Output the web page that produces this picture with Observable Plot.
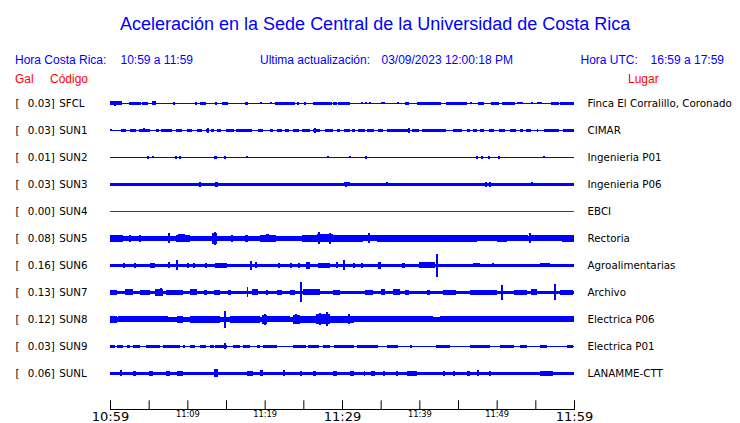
<!DOCTYPE html>
<html><head><meta charset="utf-8">
<script src="https://cdn.jsdelivr.net/npm/d3@7"></script>
<script src="https://cdn.jsdelivr.net/npm/@observablehq/plot@0.6"></script>
<style>
html,body{margin:0;padding:0;background:#fff;}
#wrap{width:740px;height:423px;position:relative;overflow:hidden;background:#fff;}
#header{position:relative;width:740px;height:88px;font-family:"Liberation Sans",Arial,sans-serif;}
#header span{position:absolute;line-height:1;white-space:pre;}
#chart svg{display:block;}
</style></head><body>
<div id="wrap"><div id="header"></div><div id="chart"></div></div>
<script>
// ---- texts ----
const titleText = "Aceleración en la Sede Central de la Universidad de Costa Rica";
const localLabel = "Hora Costa Rica:";
const localRange = "10:59 a 11:59";
const updateLabel = "Ultima actualización:";
const updateValue = "03/09/2023 12:00:18 PM";
const utcLabel = "Hora UTC:";
const utcRange = "16:59 a 17:59";
const colHeaders = ["Gal", "Código", "Lugar"];

// ---- stations ----
const stations = ["SFCL","SUN1","SUN2","SUN3","SUN4","SUN5","SUN6","SUN7","SUN8","SUN9","SUNL"];
const galValues = [0.03,0.03,0.01,0.03,0.00,0.08,0.16,0.13,0.12,0.03,0.06];
const places = ["Finca El Corralillo, Coronado","CIMAR","Ingenieria P01","Ingenieria P06","EBCI","Rectoria","Agroalimentarias","Archivo","Electrica P06","Electrica P01","LANAMME-CTT"];
const activeFlags = [true,true,true,true,false,true,true,true,true,true,true];
// background noise half-amplitude per trace
const baseAmp = [0.6,0.6,0.6,1.7,0.75,2.4,1.3,1.7,2.5,0.6,1.7];

// ---- time axis (minutes after 10:59) ----
const timeSpan = [0, 60];
const tickMinutes = [0,5,10,15,20,25,30,35,40,45,50,55,60];
const labelMinutes = [0,10,20,30,40,50,60];
const tickLabels = ["10:59","11:09","11:19","11:29","11:39","11:49","11:59"];
const majorLabel = [true,false,false,true,false,false,true];

// ---- bursts [start min, end min, half amplitude] and spikes [min, half amplitude] ----
const sfclBursts = [[0,1.5,2],[2.4,4.0,1.7],[4.1,4.9,1.3],[5.4,6.0,2],[11.0,11.3,1.5],[11.6,12.4,1.5],[14.5,15.2,1.3],[17.5,17.9,1.5],[21.4,23.9,1.7],[25.1,25.4,1.3],[26.2,28.7,1.7],[28.9,29.3,1.3],[29.5,31.0,1.5],[35.1,35.6,1],[38.1,38.6,1.3],[39.7,42.8,1.7],[43.4,46.1,1.7],[47.6,48.3,1.5],[49.3,50.3,1.5],[50.7,52.4,1.5],[52.6,53.4,1],[55.2,55.9,1],[57.0,58.0,1.5],[58.2,60,1.7]];
const sfclSpikes = [[0.6,2.5],[8.2,1.3],[9.3,0.8],[13.7,1.3],[19.5,1],[20.7,1],[24.2,1.3],[32.5,1],[33.0,1],[33.6,1],[37.2,1],[46.6,1],[54.5,1]];

const sun1Bursts = [[0,0.2,1],[1.7,2.1,1.3],[2.6,3.3,1.5],[3.8,4.3,1.5],[4.5,5.2,1.5],[5.9,6.3,1.3],[6.6,7.2,1.5],[7.2,8.0,1.3],[8.5,9.3,1.5],[10.0,10.6,1.5],[11.2,11.9,1.5],[12.4,12.8,1.7],[13.1,13.4,1.3],[13.8,14.4,1.5],[15.0,16.0,1.5],[16.3,18.3,1.5],[19.2,19.8,1.5],[20.7,21.1,1.3],[21.6,22.3,1.5],[22.6,23.1,1.3],[23.7,24.5,1.5],[24.8,25.8,1.5],[26.2,27.2,1.5],[27.8,28.9,1.5],[29.4,29.7,1.3],[30.2,31.0,1.5],[31.3,31.7,1.3],[32.1,33.0,1.5],[33.2,34.1,1.5],[34.6,35.3,1.3],[35.8,38.6,1.5],[39.0,39.9,1.5],[40.4,43.4,1.5],[44.4,45.5,1.5],[46.2,46.6,1.3],[46.9,47.5,1.5],[47.8,48.4,1.5],[49.0,49.7,1.5],[50.3,51.1,1.5],[51.7,52.5,1.5],[53.0,53.4,1.3],[53.8,54.5,1.5],[55.2,55.4,1.3],[56.1,58.0,1.5],[58.6,60,1.5]];
const sun1Spikes = [[0.6,0.7],[1.5,1.5],[4.3,2],[12.6,2.5],[26.5,2.3],[38.6,2.3]];

const sun2Bursts = [[13.5,13.8,1.7]];
const sun2Spikes = [[4.8,1.7],[5.5,1],[8.5,1.7],[9.0,1.3],[14.8,1.3],[17.6,1],[28.1,1],[30.4,0.7],[31.0,1],[31.8,0.8],[33.0,1.7],[47.4,1.5],[48.1,1.7],[49.0,1.7],[50.2,1.7],[56.0,1]];

const sun3Bursts = [[30.3,31.0,2.0]];
const sun3Spikes = [[11.6,2.3],[13.6,2.7],[13.8,2.7],[30.5,2.7],[35.7,2],[48.6,2.3],[49.1,2.7],[54.5,2]];

const sun4Bursts = [];
const sun4Spikes = [];

const sun5Bursts = [[0,1.7,3.3],[1.7,4.6,2.8],[2.5,2.7,3.5],[3.8,4.0,3.5],[4.8,7.4,2.8],[8.5,10.3,3.3],[8.8,9.7,4],[10.3,13.0,2.6],[13.2,13.9,5.5],[14.0,19.4,2.8],[15.6,15.9,3.3],[17.5,17.8,3.3],[19.4,21.5,3.3],[20.2,20.5,4],[21.5,24.6,2.6],[24.8,26.8,3.7],[26.8,28.9,4.0],[28.9,31.0,3.3],[31.0,32.7,3.5],[32.7,34.5,3],[34.5,37.5,3.2],[37.5,39.7,3.5],[39.7,44.0,3.2],[44.0,47.4,3.5],[47.4,50.0,3],[50.0,51.3,3.5],[51.3,54.0,3],[54.3,58.4,3],[58.4,60,3.8]];
const sun5Spikes = [[7.5,5],[13.5,6.5],[26.9,6],[28.4,5.7],[33.4,5],[54.3,5]];

const sun6Bursts = [[0,35.5,1.7],[5.2,5.8,2.7],[13.6,15.1,2.5],[18.8,19.0,3],[25.4,25.9,3.5],[26.9,28.4,2.7],[34.6,35.1,3.5],[37.7,38.1,2.3],[39.9,41.0,3],[41.0,42.0,3],[47.0,47.8,2],[55.6,56.9,2]];
const sun6Spikes = [[1.7,2.7],[3.2,2.7],[7.5,3],[8.6,5],[10.0,2.5],[10.8,2.5],[12.4,2.5],[18.2,4.3],[21.8,2.3],[23.3,2.7],[24.4,2.7],[29.3,3],[30.2,5],[31.5,2.5],[32.5,2.5],[42.25,11.7],[49.4,2]];

const sun7Bursts = [[0,0.9,2.7],[1.9,3.0,3],[3.9,5.2,2.5],[5.8,6.9,3.3],[7.3,9.5,2.3],[10.3,11.2,3],[12.1,12.5,2.7],[13.4,14.2,2.7],[15.3,15.7,2.7],[17.7,17.9,5],[18.3,19.2,3],[21.6,22.2,2.5],[23.3,23.9,2.5],[25.0,27.2,3],[28.9,29.7,2.5],[33.0,34.0,2.3],[35.1,35.6,3],[36.6,37.5,3],[38.1,38.6,2.3],[41.0,41.4,2.7],[43.1,44.8,2.5],[46.6,50.0,2.7],[52.2,53.9,2.7],[54.4,55.2,3],[58.2,59.9,2.5]];
const sun7Spikes = [[6.5,4],[20.3,2.5],[24.6,10],[50.6,7.5],[57.5,8]];

const sun8Bursts = [[0,0.9,3.7],[1.0,7.5,3],[8.6,9.5,3.3],[10.3,12.9,3.3],[12.9,14.2,3.5],[15.5,19.4,3.3],[15.9,17.2,3.8],[19.7,20.3,4.5],[20.3,23.3,3],[23.7,24.6,4.5],[24.6,26.7,3.5],[26.7,28.4,5],[28.4,31.0,3.3],[29.7,31.5,3.6],[31.5,41.8,3],[42.7,60,2.9]];
const sun8Spikes = [[14.8,8.3],[20.0,5.5],[24.0,5],[27.1,6],[28.0,7],[30.8,5]];

const sun9Bursts = [[0,0.6,1.5],[0.9,1.7,1.5],[2.2,2.6,1.5],[3.0,3.9,1.5],[4.7,6.5,1.5],[6.9,9.1,1.5],[10.3,11.0,1.5],[11.6,12.4,1.5],[12.9,13.4,1.5],[13.6,15.1,1.5],[15.9,16.8,1.5],[17.2,18.1,1.5],[19.0,19.4,1.5],[19.8,21.6,1.5],[23.7,25.4,1.5],[25.6,27.0,1.5],[27.5,28.5,1.5],[29.0,31.5,1.5],[31.9,34.7,1.5],[35.8,37.3,1.5],[42.2,44.0,1.5],[46.6,49.1,1.5],[50.4,52.2,1.5],[53.0,53.9,1.5],[55.6,56.5,1.5],[59.1,59.9,1.5]];
const sun9Spikes = [[9.5,1.5],[14.8,3],[38.8,1.5]];

const sunlBursts = [[1.3,1.5,3],[3.0,3.4,2.5],[5.0,5.6,2.5],[7.3,7.8,2.3],[8.6,9.5,2.3],[13.4,14.0,4.0],[17.7,18.5,2.5],[19.4,19.8,3.0],[22.4,22.6,3],[26.3,26.7,2.3],[28.9,29.3,2.5],[31.0,31.5,2.3],[32.8,33.0,2.3],[33.8,34.3,2.5],[35.3,35.6,2.3],[38.4,39.7,2.5],[46.1,46.6,2.7],[55.6,57.3,2.3]];
const sunlSpikes = [[24.6,2.5],[37.1,2.3],[43.1,2.5],[44.4,2.3],[47.5,3],[49.1,2.3]];

// ---- assemble ----
const burstsByStation = [sfclBursts,sun1Bursts,sun2Bursts,sun3Bursts,sun4Bursts,sun5Bursts,sun6Bursts,sun7Bursts,sun8Bursts,sun9Bursts,sunlBursts];
const spikesByStation = [sfclSpikes,sun1Spikes,sun2Spikes,sun3Spikes,sun4Spikes,sun5Spikes,sun6Spikes,sun7Spikes,sun8Spikes,sun9Spikes,sunlSpikes];

const GAP = 27; // amplitude units between trace baselines
const BLUE = "#0000ff", OFF = "#dc0000";
const rows = stations.map((code, i) => ({code, i, gal: galValues[i], place: places[i], base: baseAmp[i], color: activeFlags[i] ? BLUE : OFF}));
const burstData = burstsByStation.flatMap((arr, i) => arr.map(([t0, t1, a]) => ({i, t0, t1, a})));
const spikeData = spikesByStation.flatMap((arr, i) => arr.map(([t, a]) => ({i, t, a})));
const labelData = labelMinutes.map((m, k) => ({m, text: tickLabels[k], major: majorLabel[k]}));

// ---- header ----
const header = document.getElementById("header");
function addSpan(text, left, top, size, color) {
  const s = document.createElement("span");
  s.textContent = text;
  s.style.left = left + "px"; s.style.top = top + "px";
  s.style.fontSize = size + "px"; s.style.color = color;
  header.appendChild(s);
}
addSpan(titleText, 120, 14.8, 18, "#0000ff");
addSpan(localLabel, 15, 54.3, 12, "#0000ff");
addSpan(localRange, 120.5, 54.3, 12, "#0000ff");
addSpan(updateLabel, 260, 54.3, 12, "#0000ff");
addSpan(updateValue, 381.5, 54.3, 12, "#0000ff");
addSpan(utcLabel, 580.5, 54.3, 12, "#0000ff");
addSpan(utcRange, 650.6, 54.3, 12, "#0000ff");
addSpan(colHeaders[0], 15, 73.3, 12, "#ff0000");
addSpan(colHeaders[1], 50, 73.3, 12, "#ff0000");
addSpan(colHeaders[2], 628, 73.3, 12, "#ff0000");

// ---- chart ----
const lblFont = 10.3;
const chart = Plot.plot({
  width: 740, height: 335,
  marginLeft: 110, marginRight: 166, marginTop: 0, marginBottom: 14,
  x: {domain: timeSpan},
  y: {domain: [0, GAP * (stations.length - 1)], range: [15.3, 285.3], axis: null},
  style: {fontFamily: "'DejaVu Sans', sans-serif", fontSize: lblFont + "px", background: "white", color: "black", overflow: "visible"},
  marks: [
    Plot.rect(rows, {x1: () => timeSpan[0], x2: () => timeSpan[1], y1: d => d.i * GAP - d.base, y2: d => d.i * GAP + d.base, fill: d => d.color, shapeRendering: "crispEdges"}),
    Plot.rect(burstData, {x1: "t0", x2: "t1", y1: d => d.i * GAP - d.a, y2: d => d.i * GAP + d.a, fill: BLUE, shapeRendering: "crispEdges"}),
    Plot.ruleX(spikeData, {x: "t", y1: d => d.i * GAP - d.a, y2: d => d.i * GAP + d.a, stroke: BLUE, strokeWidth: 2, shapeRendering: "crispEdges"}),
    // left labels
    Plot.text(rows, {y: d => d.i * GAP, frameAnchor: "left", dx: -95, text: () => "[", textAnchor: "start", fill: "black"}),
    Plot.text(rows, {y: d => d.i * GAP, frameAnchor: "left", dx: -55.7, text: d => d.gal.toFixed(2) + "]", textAnchor: "end", fill: "black"}),
    Plot.text(rows, {y: d => d.i * GAP, frameAnchor: "left", dx: -51.3, text: "code", textAnchor: "start", fill: "black"}),
    // right labels
    Plot.text(rows, {y: d => d.i * GAP, frameAnchor: "right", dx: 13, text: "place", textAnchor: "start", fill: "black"}),
    // time axis
    Plot.frame({anchor: "bottom", stroke: "black"}),
    Plot.axisX(tickMinutes, {anchor: "bottom", tickSize: -8.7, tickFormat: () => "", stroke: "black"}),
    Plot.text(labelData, {x: "m", text: "text", frameAnchor: "bottom", lineAnchor: "top", dy: 2, fontSize: d => d.major ? 13 : 8.3, fill: "black"})
  ]
});
document.getElementById("chart").appendChild(chart);
</script>
</body></html>
